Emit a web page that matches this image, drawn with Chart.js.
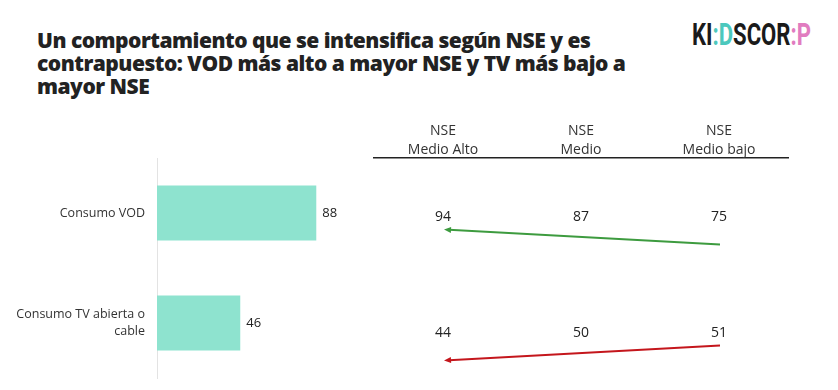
<!DOCTYPE html>
<html lang="es">
<head>
  <meta charset="UTF-8" />
  <title>Consumo VOD y TV según NSE</title>
  <script src="https://cdn.jsdelivr.net/npm/chart.js"></script>
  <style>
    body { margin: 0; width: 838px; height: 390px; background: #fff; position: relative; overflow: hidden; font-family: "Open Sans", sans-serif; }
    h1 { position: absolute; left: 37px; top: 29px; margin: 0; font-size: 21px; line-height: 23px; font-weight: 800; letter-spacing: -0.5px; color: #222; white-space: nowrap; }
    .logo { position: absolute; left: 692px; top: 18px; font-family: Roboto, sans-serif; font-weight: 700; font-size: 32px; line-height: 32px; color: #1a1a1a; transform: scaleX(0.69); transform-origin: left top; white-space: nowrap; }
    .logo .t { color: #4cc8bd; }
    .logo .p { color: #e17cc0; }
    #barWrap { position: absolute; left: 0; top: 150px; width: 360px; height: 235px; }
    #nseWrap { position: absolute; left: 370px; top: 120px; width: 430px; height: 270px; }
  </style>
</head>
<body>
  <h1>Un comportamiento que se intensifica según NSE y es<br>contrapuesto: VOD más alto a mayor NSE y TV más bajo a<br>mayor NSE</h1>
  <div class="logo">KI<span class="t">:D</span>SCOR<span class="p">:P</span></div>
  <div id="barWrap"><canvas id="barChart"></canvas></div>
  <div id="nseWrap"><canvas id="nseChart"></canvas></div>
  <script>
    // datos
    const categorias = ['Consumo VOD', ['Consumo TV abierta o', 'cable']];
    const totales = [88, 46];
    const nseLabels = [['NSE', 'Medio Alto'], ['NSE', 'Medio'], ['NSE', 'Medio bajo']];
    const filas = ['VOD', 'TV'];
    const vodPorNse = [94, 87, 75];
    const tvPorNse = [44, 50, 51];

    // etiqueta de valor al final de cada barra
    const barValues = {
      id: 'barValues',
      afterDatasetsDraw(chart) {
        const ctx = chart.ctx;
        ctx.save();
        ctx.font = '13px "Open Sans", sans-serif';
        ctx.fillStyle = '#222';
        ctx.textBaseline = 'middle';
        chart.getDatasetMeta(0).data.forEach((bar, i) => {
          ctx.fillText(chart.data.datasets[0].data[i], bar.x + 6, bar.y);
        });
        ctx.restore();
      }
    };

    new Chart(document.getElementById('barChart'), {
      type: 'bar',
      data: {
        labels: categorias,
        datasets: [{
          data: totales,
          backgroundColor: '#8ee3cf',
          barPercentage: 0.5,
          categoryPercentage: 1
        }]
      },
      options: {
        indexAxis: 'y',
        responsive: true,
        maintainAspectRatio: false,
        animation: false,
        layout: { padding: { top: 8, right: 22, bottom: 7 } },
        plugins: { legend: { display: false }, tooltip: { enabled: false } },
        scales: {
          x: { min: 0, max: 100, display: false },
          y: {
            grid: { display: false, drawTicks: false },
            border: { color: '#e3e3e3' },
            ticks: { color: '#333', padding: 12, font: { family: '"Open Sans", sans-serif', size: 12.5, lineHeight: 1.3 } },
            afterFit(scale) {
              scale.width = 157;
              scale.paddingTop = 0;
              scale.paddingBottom = 0;
            }
          }
        }
      },
      plugins: [barValues]
    });

    // valores por NSE y flechas de tendencia
    const nseMarks = {
      id: 'nseMarks',
      afterDatasetsDraw(chart) {
        const ctx = chart.ctx;
        ctx.save();
        chart.data.datasets.forEach((ds, d) => {
          const pts = chart.getDatasetMeta(d).data;
          ctx.font = '14px "Open Sans", sans-serif';
          ctx.fillStyle = '#222';
          ctx.textAlign = 'center';
          ctx.textBaseline = 'middle';
          pts.forEach((p, i) => ctx.fillText(ds.data[i].v, p.x, p.y + 1));

          const first = pts[0], last = pts[pts.length - 1];
          const tilt = ds.data[0].v > ds.data[pts.length - 1].v ? -7.5 : 7.5;
          const x1 = last.x + 1, y1 = last.y + 21 - tilt;
          const x2 = first.x + 1, y2 = first.y + 21 + tilt;
          ctx.strokeStyle = ds.borderColor;
          ctx.fillStyle = ds.borderColor;
          ctx.lineWidth = 2;
          ctx.beginPath();
          ctx.moveTo(x1, y1);
          ctx.lineTo(x2 + 5, y2 + (y1 - y2) * 5 / (x1 - x2));
          ctx.stroke();
          const a = Math.atan2(y1 - y2, x1 - x2);
          ctx.beginPath();
          ctx.moveTo(x2, y2);
          ctx.lineTo(x2 + 7 * Math.cos(a) - 3 * Math.sin(a), y2 + 7 * Math.sin(a) + 3 * Math.cos(a));
          ctx.lineTo(x2 + 7 * Math.cos(a) + 3 * Math.sin(a), y2 + 7 * Math.sin(a) - 3 * Math.cos(a));
          ctx.closePath();
          ctx.fill();
        });
        ctx.restore();
      }
    };

    new Chart(document.getElementById('nseChart'), {
      type: 'line',
      data: {
        datasets: [
          { label: 'VOD', data: vodPorNse.map((v, i) => ({ x: i, y: 'VOD', v })), borderColor: '#3d9b3f', showLine: false, pointRadius: 0 },
          { label: 'TV', data: tvPorNse.map((v, i) => ({ x: i, y: 'TV', v })), borderColor: '#c4161c', showLine: false, pointRadius: 0 }
        ]
      },
      options: {
        responsive: true,
        maintainAspectRatio: false,
        animation: false,
        layout: { padding: { left: 4, right: 12 } },
        plugins: { legend: { display: false }, tooltip: { enabled: false } },
        scales: {
          x: {
            type: 'category',
            labels: nseLabels,
            position: 'top',
            offset: true,
            grid: { display: false, drawTicks: false },
            border: { color: '#222', width: 1.5 },
            ticks: { color: '#333', padding: -1, maxRotation: 0, font: { family: '"Open Sans", sans-serif', size: 14, lineHeight: 1.35 } },
            afterFit(scale) { scale.height = 38; }
          },
          y: { type: 'category', labels: filas, offset: true, display: false }
        }
      },
      plugins: [nseMarks]
    });
  </script>
</body>
</html>
